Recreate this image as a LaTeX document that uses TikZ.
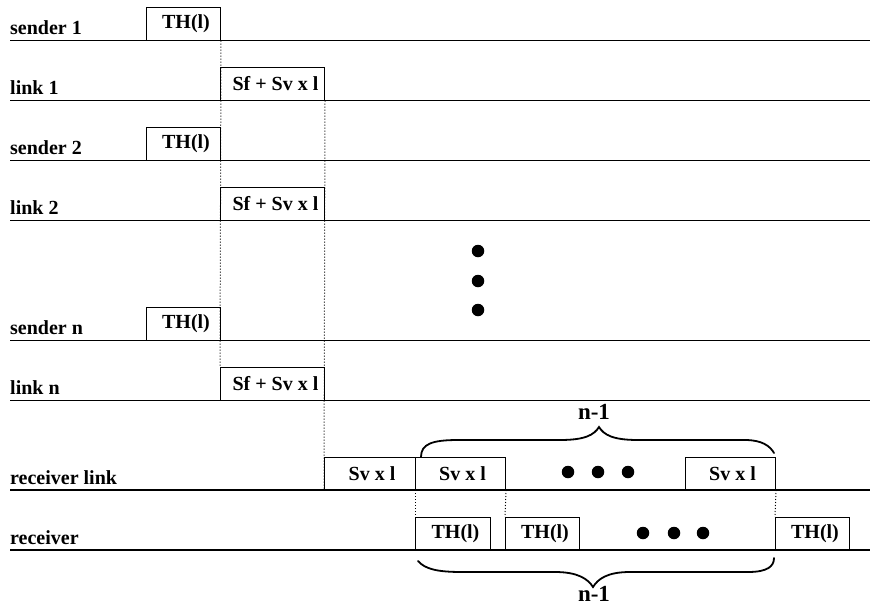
\documentclass[tikz,border=0pt]{standalone}
\usepackage{fontspec}
\setmainfont{Liberation Serif}
\begin{document}
\begin{tikzpicture}[x=1pt,y=-1pt,
  axis/.style={line width=1.4pt},
  lbl/.style={anchor=base west, font=\fontsize{20}{22}\selectfont\bfseries, inner sep=0},
  tbox/.style={draw, line width=1pt, anchor=south west, minimum height=33pt, inner sep=0, font=\fontsize{20}{22}\selectfont\bfseries},
  rbox/.style={tbox, minimum height=32pt},
  dotl/.style={dotted, line width=1pt},
  bigdot/.style={circle, fill, minimum size=12.5pt, inner sep=0},
  brc/.style={line width=1.8pt, line cap=round},
  nlab/.style={font=\fontsize{23}{25}\selectfont\bfseries, inner sep=0},
]
\useasboundingbox (0,0) rectangle (871,606);

% time lines
\foreach \yy in {40.5,100.5,160.5,220.5,340.5,400.5,490,550}
  \draw[axis] (10,\yy) -- (870,\yy);

% row labels
\node[lbl] (s1) at (10,34.5) {sender 1};
\node[lbl] (l1) at (10,94.5) {link 1};
\node[lbl] (s2) at (10,154.5) {sender 2};
\node[lbl] (l2) at (10,214.5) {link 2};
\node[lbl] (sn) at (10,334.5) {sender n};
\node[lbl] (ln) at (10,394.5) {link n};
\node[lbl] (rlk) at (10,484.5) {receiver link};
\node[lbl] (rcv) at (10,544.5) {receiver};

% boxes
\node[tbox, minimum width=74pt] (th1) at (146,40.5) {\hspace*{5pt}TH(l)};
\node[tbox, minimum width=104pt] (lk1) at (220,100.5) {\hspace*{6pt}Sf + Sv x l};
\node[tbox, minimum width=74pt] (th2) at (146,160.5) {\hspace*{5pt}TH(l)};
\node[tbox, minimum width=104pt] (lk2) at (220,220.5) {\hspace*{6pt}Sf + Sv x l};
\node[tbox, minimum width=74pt] (thn) at (146,340.5) {\hspace*{5pt}TH(l)};
\node[tbox, minimum width=104pt] (lkn) at (220,400.5) {\hspace*{6pt}Sf + Sv x l};

\node[rbox, minimum width=91pt] (rl0) at (324,490) {\hspace*{4pt}Sv x l};
\node[rbox, minimum width=90pt] (rl1) at (415,490) {\hspace*{4pt}Sv x l};
\node[rbox, minimum width=90pt] (rl2) at (685,490) {\hspace*{4pt}Sv x l};
\node[rbox, minimum width=75pt] (r1) at (415,550) {\hspace*{5pt}TH(l)};
\node[rbox, minimum width=74pt] (r2) at (505,550) {\hspace*{5pt}TH(l)};
\node[rbox, minimum width=74pt] (r3) at (775,550) {\hspace*{5pt}TH(l)};

% dotted guides
\draw[dotl] (th1.south east) -- (lkn.north west);
\draw[dotl] (lk1.south east) -- (rl0.south west);
\draw[dotl] (rl1.south west) -- (r1.north west);
\draw[dotl] (rl1.south east) -- (r2.north west);
\draw[dotl] (rl2.south east) -- (r3.north west);

% ellipsis dots
\node[bigdot] (v1) at (478,251) {};
\node[bigdot] (v2) at (478,281) {};
\node[bigdot] (v3) at (478,310) {};
\node[bigdot] (h1) at (568,472) {};
\node[bigdot] (h2) at (598,472) {};
\node[bigdot] (h3) at (628,472) {};
\node[bigdot] (g1) at (643,533) {};
\node[bigdot] (g2) at (674,533) {};
\node[bigdot] (g3) at (703,533) {};

% braces
\coordinate (bta) at (421,457);
\coordinate (btt) at (599,427);
\coordinate (btb) at (774,453);
\coordinate (bba) at (418,561);
\coordinate (bbt) at (593,587);
\coordinate (bbb) at (774,558);
\draw[brc] (bta) .. controls (421,444) and (432,440) .. (458,440) -- (560,440)
  .. controls (585,440) and (594,435) .. (btt)
  .. controls (604,435) and (613,440) .. (638,440) -- (745,440)
  .. controls (762,440) and (770,446) .. (btb);
\draw[brc] (bba) .. controls (425,569) and (437,572) .. (462,572) -- (555,572)
  .. controls (578,572) and (588,579) .. (bbt)
  .. controls (598,579) and (607,572) .. (630,572) -- (748,572)
  .. controls (768,572) and (774,566) .. (bbb);
\node[nlab] (n1) at (594,412) {n-1};
\node[nlab] (n2) at (594,594) {n-1};
\end{tikzpicture}
\end{document}
